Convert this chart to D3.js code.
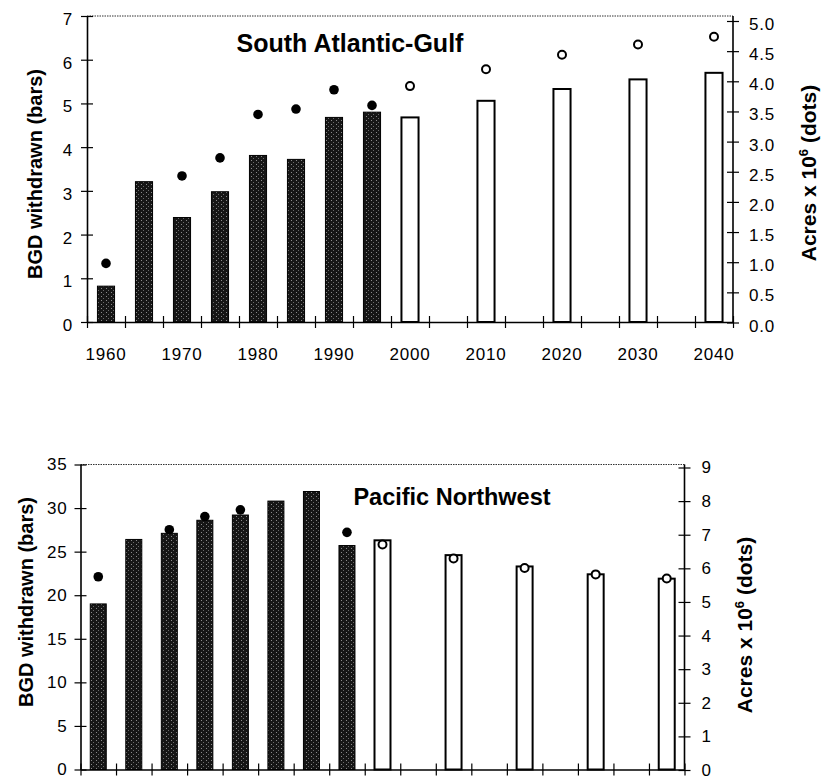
<!DOCTYPE html>
<html><head><meta charset="utf-8">
<script src="https://cdn.jsdelivr.net/npm/d3@7"></script>
<style>body{margin:0;background:#fff}</style>
</head><body>
<svg id="c" width="822" height="779"></svg>
<script>
// ---------- data ----------
const years = [1960,1965,1970,1975,1980,1985,1990,1995,2000,2010,2020,2030,2040];
const labelYears = [1960,1970,1980,1990,2000,2010,2020,2030,2040];
const firstProjectedYear = 2000;

const sagTitle = "South Atlantic-Gulf";
const sagWithdrawn = [0.82,3.21,2.39,2.98,3.81,3.72,4.68,4.80,4.68,5.06,5.33,5.55,5.70];
const sagAcres     = [0.98,null,2.43,2.73,3.45,3.54,3.86,3.60,3.92,4.20,4.44,4.61,4.74];
const sagLeftTicks  = [0,1,2,3,4,5,6,7];
const sagRightTicks = [0,0.5,1,1.5,2,2.5,3,3.5,4,4.5,5];

const pnwTitle = "Pacific Northwest";
const pnwWithdrawn = [19.0,26.4,27.1,28.6,29.2,30.8,31.9,25.7,26.3,24.6,23.3,22.4,21.9];
const pnwAcres     = [5.75,null,7.15,7.54,7.74,null,null,7.07,6.71,6.29,6.01,5.82,5.70];
const pnwLeftTicks  = [0,5,10,15,20,25,30,35];
const pnwRightTicks = [0,1,2,3,4,5,6,7,8,9];

const leftAxisLabel = "BGD withdrawn (bars)";
const rightAxisLabel = ["Acres x 10", "6", " (dots)"];

// ---------- drawing ----------
const svg = d3.select("#c");
const TICK_FONT = "'Liberation Sans', Arial, sans-serif";
const BOLD_FONT = "'Liberation Sans', Arial, sans-serif";

const defs = svg.append("defs");
const pat = defs.append("pattern").attr("id","stip").attr("patternUnits","userSpaceOnUse")
  .attr("width",5).attr("height",4);
pat.append("rect").attr("width",5).attr("height",4).attr("fill","#161616");
pat.append("rect").attr("x",1).attr("y",0).attr("width",1).attr("height",1).attr("fill","#8a8a8a");
pat.append("rect").attr("x",3).attr("y",2).attr("width",1).attr("height",1).attr("fill","#6a6a6a");

function panel(cfg) {
  const g = svg.append("g");
  const x = d3.scaleLinear()
    .domain([years[0] - 2.5, years[years.length - 1] + 2.5])
    .range([cfg.x0, cfg.x1]);
  const yL = d3.scaleLinear().domain([0, d3.max(cfg.leftTicks)]).range([cfg.y0, cfg.y1]);
  const yR = d3.scaleLinear().domain([0, d3.max(cfg.rightTicks)]).range([cfg.y0R, cfg.y1R]);
  const slotW = x(years[0] + 5) - x(years[0]);
  const barW = slotW * 0.45;

  // top frame (dotted)
  g.append("line").attr("x1", cfg.x0).attr("x2", cfg.x1).attr("y1", cfg.y1).attr("y2", cfg.y1)
    .attr("stroke", "#333").attr("stroke-width", 1).attr("stroke-dasharray", "1.5,1");

  const rows = years.map((yr, i) => ({ yr, w: cfg.withdrawn[i], a: cfg.acres[i], proj: yr >= firstProjectedYear }));

  // bars
  g.selectAll("rect.bar").data(rows).join("rect").attr("class", "bar")
    .attr("x", d => x(d.yr) - barW / 2)
    .attr("y", d => yL(d.w))
    .attr("width", barW)
    .attr("height", d => yL(0) - yL(d.w))
    .attr("fill", d => d.proj ? "#fff" : "url(#stip)")
    .attr("stroke", "#000")
    .attr("stroke-width", d => d.proj ? 2 : 1);

  // x axis (ticks at slot boundaries)
  const [d0, d1] = x.domain();
  const boundaries = d3.range(d0, d1 + 0.1, 5);
  const ax = g.append("g").attr("transform", `translate(0,${cfg.y0})`)
    .call(d3.axisBottom(x).tickValues(boundaries).tickFormat("").tickSize(6).tickSizeOuter(0));
  ax.selectAll(".tick line").attr("y1", -6).attr("stroke-width", 1.2);
  ax.select(".domain").attr("stroke-width", 1.6);

  if (cfg.showXLabels) {
    g.selectAll("text.xl").data(labelYears).join("text").attr("class", "xl")
      .attr("x", d => x(d)).attr("y", cfg.xLabelY)
      .attr("text-anchor", "middle")
      .attr("font-family", TICK_FONT).attr("font-size", 17).attr("letter-spacing", 0.8)
      .text(d => d);
  }

  // left axis
  const al = g.append("g").attr("transform", `translate(${cfg.x0},0)`)
    .call(d3.axisLeft(yL).tickValues(cfg.leftTicks).tickFormat(d3.format("d"))
      .tickSize(6).tickSizeOuter(0).tickPadding(cfg.leftPad));
  al.selectAll(".tick line").attr("x1", 6).attr("stroke-width", 1.2);
  al.select(".domain").attr("stroke-width", 1.6);
  al.attr("font-family", TICK_FONT).attr("font-size", 17);
  al.selectAll(".tick text").attr("dy", cfg.labelDy).attr("letter-spacing", 0.8);

  // right axis
  const ar = g.append("g").attr("transform", `translate(${cfg.x1},0)`)
    .call(d3.axisRight(yR).tickValues(cfg.rightTicks).tickFormat(d3.format(cfg.rightFmt))
      .tickSize(6).tickSizeOuter(0).tickPadding(cfg.rightPad));
  ar.selectAll(".tick line").attr("x1", -6).attr("stroke-width", 1.2);
  ar.select(".domain").attr("d", `M0,${cfg.y0}V${cfg.y1}`).attr("stroke-width", 1.6);
  ar.attr("font-family", TICK_FONT).attr("font-size", 17);
  ar.selectAll(".tick text").attr("dy", cfg.labelDy).attr("letter-spacing", 0.8);

  // dots
  g.selectAll("circle.dot").data(rows.filter(d => d.a != null)).join("circle").attr("class", "dot")
    .attr("cx", d => x(d.yr)).attr("cy", d => yR(d.a))
    .attr("r", d => d.proj ? 4 : 4.8)
    .attr("fill", d => d.proj ? "#fff" : "#000")
    .attr("stroke", "#000").attr("stroke-width", d => d.proj ? 2 : 0);

  // title
  g.append("text").attr("x", cfg.titleX).attr("y", cfg.titleY).attr("text-anchor", "middle")
    .attr("font-family", BOLD_FONT).attr("font-weight", "bold").attr("font-size", cfg.titleSize)
    .text(cfg.title);

  // left axis title
  g.append("text").attr("transform", `translate(${cfg.lLabX},${cfg.lLabY}) rotate(-90)`)
    .attr("text-anchor", "middle").attr("font-family", BOLD_FONT).attr("font-weight", "bold")
    .attr("font-size", 20).text(leftAxisLabel);

  // right axis title
  const rt = g.append("text").attr("transform", `translate(${cfg.rLabX},${cfg.rLabY}) rotate(-90)`)
    .attr("text-anchor", "middle").attr("font-family", BOLD_FONT).attr("font-weight", "bold")
    .attr("font-size", 21);
  rt.append("tspan").text(rightAxisLabel[0]);
  rt.append("tspan").attr("dy", -8).attr("font-size", 13).text(rightAxisLabel[1]);
  rt.append("tspan").attr("dy", 8).text(rightAxisLabel[2]);
}

panel({
  title: sagTitle, withdrawn: sagWithdrawn, acres: sagAcres,
  leftTicks: sagLeftTicks, rightTicks: sagRightTicks, rightFmt: ".1f",
  x0: 87, x1: 733, y0: 322, y1: 16, y0R: 322.5, y1R: 21,
  showXLabels: true, xLabelY: 360, leftPad: 8, rightPad: 10, labelDy: "0.5em",
  titleX: 350, titleY: 52, titleSize: 25,
  lLabX: 42, lLabY: 174, rLabX: 816, rLabY: 173
});

panel({
  title: pnwTitle, withdrawn: pnwWithdrawn, acres: pnwAcres,
  leftTicks: pnwLeftTicks, rightTicks: pnwRightTicks, rightFmt: "d",
  x0: 80.5, x1: 684.5, y0: 769.5, y1: 464.5, y0R: 770, y1R: 467.5,
  showXLabels: false, xLabelY: 808, leftPad: 7, rightPad: 11, labelDy: "0.32em",
  titleX: 452, titleY: 505, titleSize: 23.5,
  lLabX: 33, lLabY: 602, rLabX: 752, rLabY: 625
});
</script>
</body></html>
